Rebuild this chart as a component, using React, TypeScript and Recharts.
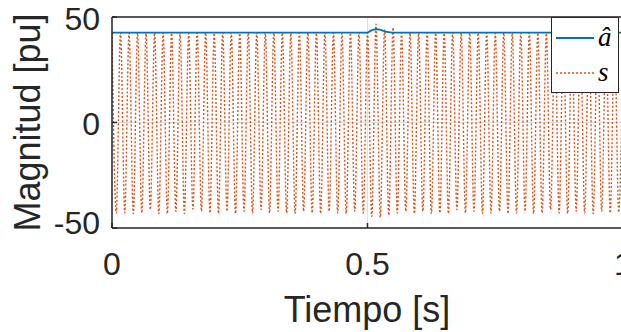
import { LineChart, Line, XAxis, YAxis, CartesianGrid, Legend, Label } from "recharts";

const X_TICKS = [0, 0.5, 1];
const Y_TICKS = [-50, 0, 50];

// s: crest of every 60 Hz cycle (t = 0, 1/60, 2/60 ...)
const sPeaks = [
  42.5, 42.5, 42.4, 42.5, 42.3, 42.5, 42.5, 42.4, 42.5, 42.2,
  42.5, 42.5, 42.4, 42.5, 42.5, 42.3, 42.5, 42.5, 42.4, 42.5,
  42.5, 42.3, 42.5, 42.5, 42.4, 42.5, 42.5, 42.3, 42.5, 42.5,
  42.5, 46.6, 43.9, 45.0, 42.5, 42.5, 42.4, 42.5, 42.5, 42.3,
  42.5, 42.5, 42.4, 42.5, 42.5, 42.3, 42.5, 42.5, 42.4, 42.5,
  42.5, 42.3, 42.5, 42.5, 42.4, 42.5, 42.5, 42.3, 42.5, 42.5,
  42.5,
];

// s: trough of every cycle, half a period after each crest
const sTroughs = [
  -42.9, -42.8, -43.2, -42.9, -41.3, -43.2, -43.2, -42.1, -43.2, -41.0,
  -42.1, -42.9, -43.2, -42.1, -43.2, -42.1, -42.9, -41.3, -42.9, -42.1,
  -42.9, -43.2, -42.1, -42.9, -43.2, -42.1, -42.9, -43.2, -42.1, -42.9,
  -44.5, -45.0, -44.0, -42.9, -42.1, -43.2, -42.1, -43.2, -42.9, -43.2,
  -41.3, -42.9, -42.1, -43.2, -42.9, -42.1, -43.2, -42.9, -42.1, -43.2,
  -42.9, -41.3, -42.9, -43.2, -42.1, -42.9, -43.2, -42.1, -42.9, -42.6,
];

// â: estimated amplitude
const aTime = [0, 0.5, 0.505, 0.512, 0.518, 0.525, 0.533, 0.541, 0.548, 1];
const aValue = [42.6, 42.6, 43.3, 44.0, 44.2, 43.9, 43.3, 42.8, 42.6, 42.6];

const HALF_PERIOD = 1 / 120;

const sData: { t: number; v: number }[] = [];
sPeaks.forEach((p, i) => {
  sData.push({ t: 2 * i * HALF_PERIOD, v: p });
  if (i < sTroughs.length) sData.push({ t: (2 * i + 1) * HALF_PERIOD, v: sTroughs[i] });
});

const aData = aTime.map((t, i) => ({ t, v: aValue[i] }));

const AXIS = "#262626";
const BLUE = "#0072BD";
const ORANGE = "#D95319";
const FONT = "'Liberation Sans', Arial, Helvetica, sans-serif";

const legendItems = [
  { name: "â", color: BLUE, dash: undefined },
  { name: "s", color: ORANGE, dash: "2 2" },
];

const XTick = ({ x, y, payload }: any) => (
  <text x={x} y={y} dy="0.71em" textAnchor="middle" fontFamily={FONT} fontSize={32} fill={AXIS}>
    {payload.value}
  </text>
);

// bottom label sits a bit higher so it clears the x tick labels
const Y_TICK_DY: Record<number, number> = { 50: 13, 0: 12, [-50]: 6 };

const YTick = ({ x, y, payload }: any) => (
  <text x={x} y={y + (Y_TICK_DY[payload.value] ?? 12)} textAnchor="end" fontFamily={FONT} fontSize={32} fill={AXIS}>
    {payload.value}
  </text>
);

const renderLegend = () => (
  <div
    style={{
      width: 68,
      height: 76,
      boxSizing: "border-box",
      border: `1.5px solid ${AXIS}`,
      background: "#fff",
    }}
  >
    <svg width={65} height={73} style={{ display: "block" }}>
      {legendItems.map((item, i) => (
        <g key={item.name}>
          <line
            x1={4}
            x2={42}
            y1={20 + i * 35}
            y2={20 + i * 35}
            stroke={item.color}
            strokeWidth={item.dash ? 1.4 : 1.8}
            strokeDasharray={item.dash}
          />
          <text
            x={46}
            y={27.5 + i * 35}
            fontFamily="'Liberation Serif', 'Times New Roman', serif"
            fontStyle="italic"
            fontSize={27}
            fill="#000"
          >
            {item.name}
          </text>
        </g>
      ))}
    </svg>
  </div>
);

export default function App() {
  return (
    <div
      style={{
        position: "fixed",
        left: 0,
        top: 0,
        width: 621,
        height: 332,
        overflow: "hidden",
        background: "#fff",
      }}
    >
      <LineChart width={660} height={332} margin={{ top: 0, right: 37, bottom: 0, left: 0 }}>
        <CartesianGrid stroke="#dfdfdf" strokeWidth={1} />
        <XAxis
          dataKey="t"
          type="number"
          domain={[0, 1]}
          ticks={X_TICKS}
          allowDataOverflow
          height={104}
          axisLine={{ stroke: AXIS, strokeWidth: 1.5 }}
          tickLine={{ stroke: AXIS, strokeWidth: 1.5 }}
          tickSize={-5}
          tickMargin={29}
          tick={<XTick />}
        >
          <Label
            content={() => (
              <text x={367} y={322} textAnchor="middle" fontFamily={FONT} fontSize={36} fill={AXIS}>
                Tiempo [s]
              </text>
            )}
          />
        </XAxis>
        <XAxis
          xAxisId="top"
          orientation="top"
          dataKey="t"
          type="number"
          domain={[0, 1]}
          ticks={X_TICKS}
          height={17}
          axisLine={{ stroke: AXIS, strokeWidth: 1.5 }}
          tickLine={{ stroke: AXIS, strokeWidth: 1.5 }}
          tickSize={-5}
          tickFormatter={() => ""}
        />
        <YAxis
          type="number"
          domain={[-50, 50]}
          ticks={Y_TICKS}
          allowDataOverflow
          width={112}
          axisLine={{ stroke: AXIS, strokeWidth: 1.5 }}
          tickLine={{ stroke: AXIS, strokeWidth: 1.5 }}
          tickSize={-5}
          tickMargin={17}
          tick={<YTick />}
        >
          <Label
            content={() => (
              <text
                x={40}
                y={122.5}
                transform="rotate(-90 40 122.5)"
                textAnchor="middle"
                fontFamily={FONT}
                fontSize={36}
                fill={AXIS}
              >
                Magnitud [pu]
              </text>
            )}
          />
        </YAxis>
        <Legend
          layout="vertical"
          align="center"
          verticalAlign="middle"
          content={renderLegend}
          wrapperStyle={{ left: 551, top: 17, width: 68, height: 76 }}
        />
        <Line
          data={sData}
          dataKey="v"
          name="s"
          type="monotone"
          stroke={ORANGE}
          strokeWidth={1.4}
          strokeDasharray="2 2"
          dot={false}
          activeDot={false}
          isAnimationActive={false}
        />
        <Line
          data={aData}
          dataKey="v"
          name="â"
          type="monotone"
          stroke={BLUE}
          strokeWidth={1.8}
          dot={false}
          activeDot={false}
          isAnimationActive={false}
        />
      </LineChart>
    </div>
  );
}
